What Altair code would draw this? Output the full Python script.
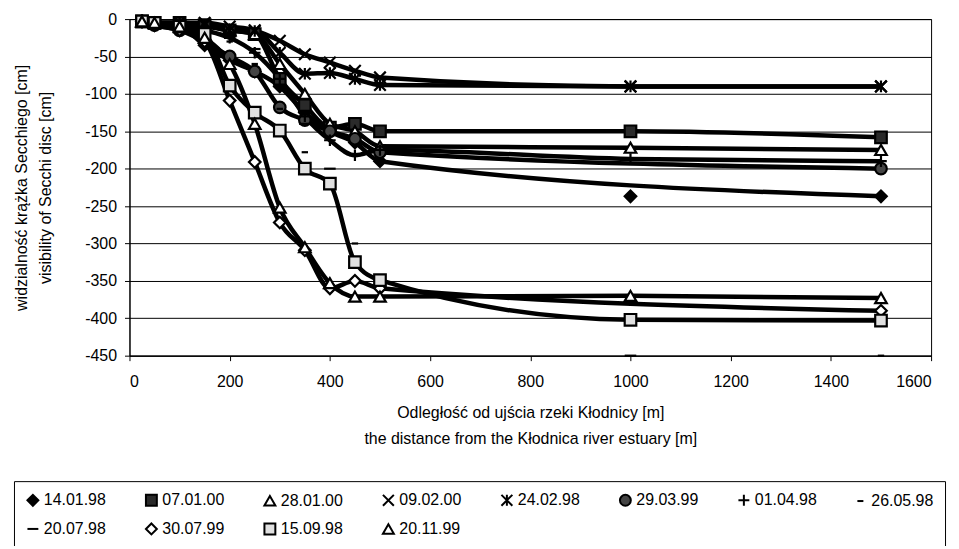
import altair as alt
import pandas as pd

x_vals = [25, 50, 100, 150, 200, 250, 300, 350, 400, 450, 500, 1000, 1500]

series_names = ["14.01.98", "07.01.00", "28.01.00", "09.02.00", "24.02.98", "29.03.99",
                "01.04.98", "26.05.98", "20.07.98", "30.07.99", "15.09.98", "20.11.99"]

s_140198 = [-3, -8, -10, -35, -55, -70, -90, -125, -150, -165, -190, -237, -237]
s_070100 = [-3, -5, -5, -8, -15, -20, -80, -115, -145, -140, -150, -150, -158]
s_280100 = [-3, -5, -8, -10, -15, -20, -60, -100, -140, -150, -170, -172, -175]
s_090200 = [-3, -5, -5, -5, -10, -15, -29, -47, -58, -69, -78, -90, -90]
s_240298 = [-3, -5, -5, -8, -15, -16, -45, -73, -72, -80, -88, -90, -90]
s_290399 = [-3, -8, -15, -30, -50, -70, -118, -135, -150, -160, -178, None, -200]
s_010498 = [-3, -5, -8, -15, -25, -45, -80, -130, -162, -182, -175, -187, -190]
s_260598 = [-3, -5, -8, -15, -30, -60, -120, -178, None, -300, None, None, -450]
s_200798 = [-3, -5, -8, -12, -20, -40, -90, -140, -200, None, None, -450, None]
s_300799 = [-3, -8, -15, -30, -109, -191, -272, -309, -360, -350, -360, None, -390]
s_150998 = [-3, -5, -10, -20, -89, -125, -149, -200, -220, -325, -349, -402, -403]
s_201199 = [-3, -5, -10, -25, -60, -140, -252, -305, -353, -371, -371, -370, -373]

all_vals = [s_140198, s_070100, s_280100, s_090200, s_240298, s_290399,
            s_010498, s_260598, s_200798, s_300799, s_150998, s_201199]

# series drawn as markers only, and single markers lying off their line
markers_only = ["26.05.98", "20.07.98"]
off_line = {("14.01.98", 1000)}

shape_range = [
    "diamond", "square", "triangle-up",
    "M-1,-1L1,1M-1,1L1,-1",
    "M-1,-1L1,1M-1,1L1,-1M0,-1L0,1",
    "circle",
    "M-1,0L1,0M0,-1L0,1",
    "M-0.55,0L0.55,0",
    "M-1,0L1,0",
    "diamond", "square", "triangle-up",
]
fill_range = ["black", "#2a2a2a", "white", "black", "black", "#444444",
              "black", "black", "black", "white", "#e0e0e0", "white"]
stroke_range = ["black"] * len(series_names)

rows = []
for name, vals in zip(series_names, all_vals):
    for x, v in zip(x_vals, vals):
        if v is None:
            continue
        rows.append({"series": name, "x": x, "y": v,
                     "online": name not in markers_only and (name, x) not in off_line})
df = pd.DataFrame(rows)

FONT = "Liberation Sans"

xenc = alt.X("x:Q", scale=alt.Scale(domain=[0, 1600], nice=False),
             axis=alt.Axis(values=list(range(0, 1601, 200)), grid=False, tickSize=5,
                           format="d", labelPadding=13, titlePadding=15, titleLineHeight=26,
                           title=["Odległość od ujścia rzeki Kłodnicy [m]",
                                  "the distance from the Kłodnica  river estuary [m]"]))
yenc = alt.Y("y:Q", scale=alt.Scale(domain=[-450, 0], nice=False),
             axis=alt.Axis(values=list(range(0, -451, -50)), grid=True, tickSize=5,
                           labelExpr="datum.value == 0 ? '0' : '-' + format(-datum.value, 'd')",
                           labelPadding=8, titlePadding=31, titleLineHeight=24,
                           title=["widzialność krążka Secchiego [cm]",
                                  "visibility of Secchi disc [cm]"]))

leg = alt.Legend(orient="none", legendX=-116, legendY=464, columns=8,
                 direction="horizontal", padding=11, strokeColor="black",
                 columnPadding=35, rowPadding=9, symbolSize=120,
                 symbolStrokeColor="black", symbolStrokeWidth=2, labelOffset=3,
                 labelFontSize=16, labelFont=FONT, labelColor="black")

lines = alt.Chart(df).transform_filter("datum.online").mark_line(
    color="black", strokeWidth=4.5, interpolate="monotone"
).encode(x=xenc, y=yenc, detail="series:N", order="x:Q")

points = alt.Chart(df).mark_point(
    size=135, strokeWidth=2.2, opacity=1, strokeOpacity=1, fillOpacity=1
).encode(
    x=xenc, y=yenc,
    shape=alt.Shape("series:N", scale=alt.Scale(domain=series_names, range=shape_range),
                    legend=leg, title=""),
    fill=alt.Fill("series:N", scale=alt.Scale(domain=series_names, range=fill_range),
                  legend=leg, title=""),
    stroke=alt.Stroke("series:N", scale=alt.Scale(domain=series_names, range=stroke_range),
                      legend=leg, title=""),
)

chart = alt.layer(lines, points).properties(
    width=805, height=338,
    autosize=alt.AutoSizeParams(type="none"),
    padding={"left": 122, "top": 10, "right": 20, "bottom": 190},
    background="white",
).configure_view(stroke="black", strokeWidth=1).configure_axis(
    labelFont=FONT, labelFontSize=16, labelColor="black",
    titleFont=FONT, titleFontSize=16, titleFontWeight="normal", titleColor="black",
    domainColor="black", tickColor="black", gridColor="black", gridWidth=1,
    gridOpacity=1,
)

chart.save("out.html", embed_options={"renderer": "svg", "actions": False})
